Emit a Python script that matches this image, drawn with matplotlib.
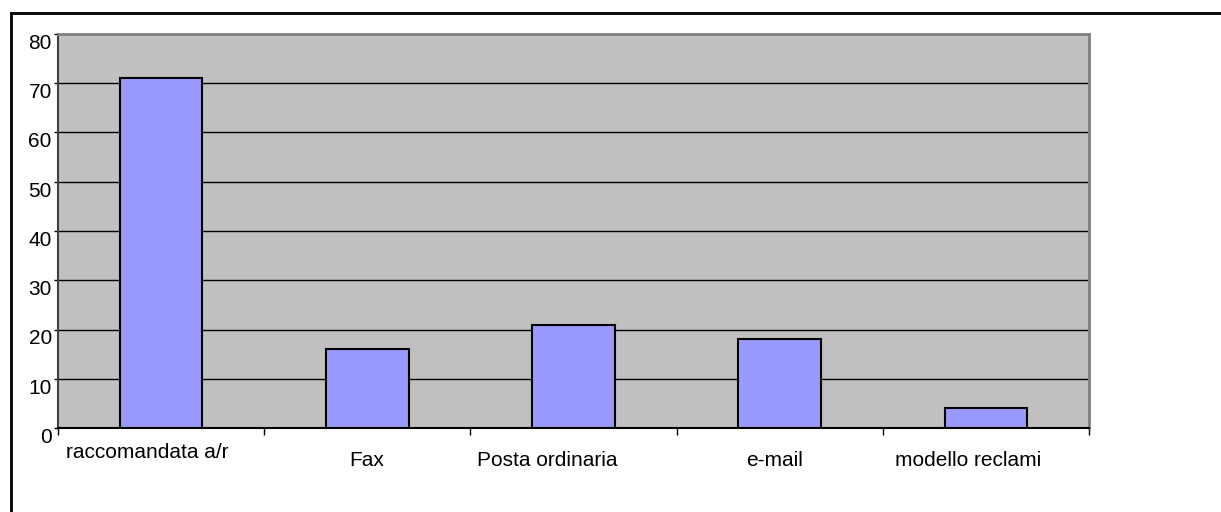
import matplotlib
matplotlib.use("Agg")
import matplotlib.pyplot as plt
import matplotlib.transforms as mtransforms
from matplotlib.lines import Line2D

# ---------- données ----------
categorie = ["raccomandata a/r", "Fax", "Posta ordinaria", "e-mail", "modello reclami"]
valori = [71, 16, 21, 18, 4]
y_ticks = [0, 10, 20, 30, 40, 50, 60, 70, 80]

# décalages des étiquettes (en unités de catégorie / pixels), comme dans l'original
label_dx = [-0.065, -0.005, -0.126, -0.025, -0.087]
label_dy_px = [-9, 0, 0, 0, 0]

plt.rcParams["font.family"] = ["Liberation Sans", "DejaVu Sans"]

fig = plt.figure(figsize=(12.21, 5.12), dpi=100)
ax = fig.add_axes([58 / 1221, 84 / 512, (1089 - 58) / 1221, (428 - 34) / 512])

ax.set_facecolor("#C0C0C0")
x = list(range(len(categorie)))
ax.bar(x, valori, width=0.4, color="#9999FF", edgecolor="black", linewidth=1.5, zorder=3)

ax.set_xlim(-0.5, len(categorie) - 0.5)
ax.set_ylim(0, 80)
ax.set_yticks(y_ticks)
ax.set_yticklabels([str(v) for v in y_ticks], fontsize=15)
for yv in y_ticks[1:-1]:
    ax.axhline(yv, color="black", linewidth=1, zorder=1)

# ticks x aux frontières de catégories
ax.set_xticks([i + 0.5 for i in x[:-1]] + [-0.5, len(categorie) - 0.5])
ax.set_xticklabels([])
ax.tick_params(axis="x", direction="out", length=5, width=1, color="black")
ax.tick_params(axis="y", direction="out", length=3, width=1, color="black", pad=1.5)

# étiquettes y décalées vers le bas comme dans Excel
off = mtransforms.ScaledTranslation(0, -7.5 / 100, fig.dpi_scale_trans)
for lab in ax.get_yticklabels():
    lab.set_transform(lab.get_transform() + off)

# étiquettes catégories
trans = mtransforms.blended_transform_factory(ax.transData, ax.transAxes)
for i, name in enumerate(categorie):
    t = trans + mtransforms.ScaledTranslation(0, -label_dy_px[i] / 100, fig.dpi_scale_trans)
    ax.text(i + label_dx[i], -33 / 394, name, transform=t, ha="center", va="center",
            fontsize=15, color="black")

for side in ["top", "right"]:
    ax.spines[side].set_color("#808080")
    ax.spines[side].set_linewidth(2)
ax.spines["left"].set_color("#404040")
ax.spines["left"].set_linewidth(1.5)
ax.spines["bottom"].set_color("black")
ax.spines["bottom"].set_linewidth(1.5)

# cadre extérieur
fig.add_artist(Line2D([11 / 1221, 1.0], [1 - 13 / 512, 1 - 13 / 512], color="black", linewidth=2,
                      transform=fig.transFigure))
fig.add_artist(Line2D([11 / 1221, 11 / 1221], [0, 1 - 13 / 512], color="black", linewidth=2,
                      transform=fig.transFigure))

fig.savefig("out.png", dpi=100)
